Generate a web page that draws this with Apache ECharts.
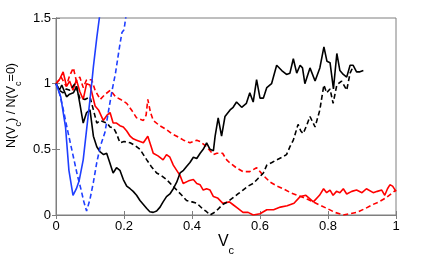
<!DOCTYPE html>
<html><head><meta charset="utf-8">
<script src="https://cdn.jsdelivr.net/npm/echarts@6/dist/echarts.min.js"></script>
<style>html,body{margin:0;padding:0;background:#fff}#c{width:436px;height:255px}</style>
</head><body><div id="c"></div>
<script>
const xTicks = [0, 0.2, 0.4, 0.6, 0.8, 1];
const yTicks = [0, 0.5, 1, 1.5];

const blueSolid = [[0,1.0],[0.014,0.9],[0.028,0.67],[0.038,0.34],[0.05,0.15],[0.06,0.2],[0.068,0.26],[0.08,0.42],[0.09,0.65],[0.1,0.88],[0.105,1.0],[0.11,1.13],[0.12,1.35],[0.13,1.55],[0.135,1.65]];
const blueDashed = [[0,1.0],[0.01,0.93],[0.02,0.82],[0.032,0.67],[0.042,0.55],[0.053,0.42],[0.063,0.3],[0.074,0.19],[0.082,0.1],[0.09,0.03],[0.1,0.12],[0.11,0.25],[0.12,0.4],[0.13,0.52],[0.144,0.63],[0.155,0.8],[0.165,0.95],[0.175,1.08],[0.185,1.25],[0.19,1.33],[0.194,1.39],[0.2,1.41],[0.205,1.5],[0.21,1.6]];
const redSolid = [[0,1.0],[0.01,1.03],[0.021,1.09],[0.031,0.98],[0.04,1.02],[0.05,0.95],[0.06,1.03],[0.07,0.94],[0.08,0.88],[0.09,1.0],[0.1,0.99],[0.115,0.83],[0.125,0.8],[0.139,0.72],[0.15,0.76],[0.159,0.78],[0.168,0.7],[0.178,0.7],[0.188,0.68],[0.198,0.67],[0.208,0.64],[0.218,0.6],[0.227,0.58],[0.237,0.57],[0.247,0.56],[0.257,0.55],[0.27,0.6],[0.28,0.52],[0.286,0.47],[0.3,0.45],[0.315,0.42],[0.325,0.46],[0.335,0.44],[0.345,0.38],[0.355,0.34],[0.365,0.3],[0.374,0.24],[0.39,0.26],[0.404,0.27],[0.414,0.24],[0.424,0.23],[0.433,0.19],[0.443,0.2],[0.453,0.19],[0.463,0.14],[0.475,0.13],[0.49,0.09],[0.51,0.1],[0.52,0.08],[0.535,0.05],[0.55,0.02],[0.565,0.02],[0.58,0.0],[0.6,0.01],[0.62,0.04],[0.64,0.04],[0.66,0.06],[0.68,0.07],[0.7,0.09],[0.718,0.14],[0.735,0.15],[0.757,0.1],[0.775,0.15],[0.787,0.2],[0.796,0.17],[0.806,0.19],[0.815,0.15],[0.825,0.18],[0.835,0.17],[0.845,0.2],[0.855,0.16],[0.87,0.18],[0.884,0.19],[0.9,0.17],[0.913,0.2],[0.933,0.17],[0.945,0.18],[0.958,0.19],[0.967,0.15],[0.975,0.2],[0.982,0.23],[0.99,0.22],[1.0,0.18]];
const redDashed = [[0,1.0],[0.015,1.05],[0.03,0.98],[0.04,1.06],[0.051,1.12],[0.06,1.02],[0.07,1.05],[0.08,0.97],[0.09,1.03],[0.105,1.03],[0.115,0.95],[0.13,0.88],[0.145,0.92],[0.16,0.95],[0.175,0.9],[0.19,0.88],[0.208,0.85],[0.222,0.8],[0.237,0.74],[0.257,0.72],[0.265,0.76],[0.27,0.88],[0.278,0.78],[0.286,0.72],[0.305,0.68],[0.325,0.65],[0.34,0.62],[0.355,0.6],[0.375,0.57],[0.394,0.55],[0.414,0.57],[0.424,0.56],[0.443,0.52],[0.463,0.46],[0.473,0.47],[0.49,0.47],[0.502,0.42],[0.51,0.4],[0.53,0.36],[0.55,0.33],[0.57,0.33],[0.59,0.36],[0.61,0.3],[0.63,0.25],[0.65,0.22],[0.668,0.2],[0.69,0.17],[0.72,0.14],[0.74,0.12],[0.756,0.1],[0.78,0.07],[0.797,0.05],[0.82,0.02],[0.845,0.0],[0.865,0.01],[0.885,0.02],[0.91,0.05],[0.932,0.08],[0.95,0.1],[0.97,0.13],[0.99,0.17],[1.0,0.19]];
const blackSolid = [[0,1.0],[0.01,0.95],[0.017,0.99],[0.031,0.9],[0.04,0.92],[0.051,0.93],[0.061,0.98],[0.07,0.85],[0.08,0.7],[0.09,0.78],[0.1,0.8],[0.11,0.6],[0.12,0.52],[0.13,0.48],[0.14,0.46],[0.149,0.47],[0.158,0.4],[0.168,0.32],[0.178,0.36],[0.188,0.34],[0.198,0.27],[0.208,0.22],[0.218,0.2],[0.227,0.18],[0.237,0.15],[0.247,0.11],[0.257,0.08],[0.267,0.05],[0.276,0.025],[0.286,0.02],[0.296,0.03],[0.306,0.06],[0.315,0.1],[0.325,0.14],[0.335,0.16],[0.345,0.2],[0.355,0.25],[0.365,0.32],[0.375,0.34],[0.384,0.37],[0.394,0.4],[0.404,0.44],[0.414,0.43],[0.424,0.47],[0.433,0.5],[0.443,0.55],[0.453,0.5],[0.463,0.49],[0.468,0.6],[0.477,0.74],[0.487,0.6],[0.497,0.75],[0.512,0.8],[0.521,0.82],[0.531,0.86],[0.546,0.82],[0.56,0.85],[0.57,0.93],[0.58,0.86],[0.59,1.03],[0.6,0.89],[0.61,0.89],[0.62,0.97],[0.634,1.0],[0.649,1.14],[0.664,1.1],[0.678,1.07],[0.688,1.08],[0.698,1.19],[0.708,1.08],[0.718,1.14],[0.725,1.12],[0.732,1.0],[0.747,1.12],[0.762,1.02],[0.776,1.12],[0.788,1.28],[0.797,1.17],[0.806,1.16],[0.816,0.96],[0.826,1.23],[0.835,1.1],[0.845,1.07],[0.855,1.05],[0.865,1.14],[0.874,1.14],[0.884,1.09],[0.894,1.09],[0.904,1.1]];
const blackDashed = [[0,1.0],[0.01,0.95],[0.021,0.93],[0.03,0.96],[0.041,0.95],[0.056,1.0],[0.07,0.89],[0.085,0.88],[0.1,0.9],[0.11,0.8],[0.12,0.7],[0.13,0.72],[0.139,0.71],[0.15,0.7],[0.159,0.67],[0.17,0.66],[0.178,0.62],[0.188,0.55],[0.2,0.56],[0.218,0.55],[0.232,0.53],[0.247,0.5],[0.257,0.46],[0.267,0.42],[0.28,0.37],[0.296,0.32],[0.31,0.3],[0.325,0.27],[0.34,0.23],[0.355,0.19],[0.37,0.15],[0.384,0.11],[0.4,0.1],[0.414,0.09],[0.43,0.05],[0.443,0.025],[0.453,0.0],[0.463,0.015],[0.475,0.04],[0.49,0.08],[0.505,0.1],[0.52,0.13],[0.535,0.16],[0.55,0.19],[0.565,0.22],[0.58,0.24],[0.595,0.28],[0.61,0.32],[0.62,0.38],[0.635,0.4],[0.649,0.42],[0.665,0.44],[0.678,0.46],[0.688,0.52],[0.698,0.57],[0.712,0.69],[0.72,0.64],[0.727,0.62],[0.737,0.68],[0.747,0.75],[0.762,0.67],[0.776,0.8],[0.784,0.93],[0.788,0.99],[0.796,0.93],[0.806,0.96],[0.815,0.85],[0.826,0.99],[0.84,1.02],[0.855,0.95],[0.865,1.08],[0.874,1.13]];

const chart = echarts.init(document.getElementById('c'), null, {renderer: 'canvas'});
const axisColor = '#7f7f7f';
const fontFam = 'Liberation Sans, Arial, sans-serif';
const tickStyle = {show: true, inside: true, length: 4, lineStyle: {color: axisColor, width: 1}};
function mk(data, color, dashed) {
  return {type: 'line', data: data, showSymbol: false, symbol: 'none', clip: true, animation: false,
    lineStyle: {color: color, width: 1.6, type: dashed ? [5, 3] : 'solid'}};
}
chart.setOption({
  backgroundColor: '#fff',
  animation: false,
  grid: {left: 56, right: 40, top: 18, bottom: 40, containLabel: false, outerBoundsMode: 'none', show: true, borderColor: axisColor, borderWidth: 1, backgroundColor: 'transparent'},
  xAxis: [{
    type: 'value', min: 0, max: 1, interval: 0.2, position: 'bottom',
    axisLine: {show: true, lineStyle: {color: axisColor}},
    axisTick: tickStyle, splitLine: {show: false},
    axisLabel: {color: '#000', fontSize: 13, fontFamily: fontFam, margin: 5, formatter: v => String(+v.toFixed(1))},
    name: '{m|V}{s|c}', nameLocation: 'middle', nameGap: 18, nameMoveOverlap: false,
    nameTextStyle: {rich: {m: {fontSize: 16, color: '#000', fontFamily: fontFam, lineHeight: 18}, s: {fontSize: 11, color: '#000', fontFamily: fontFam, verticalAlign: 'bottom', lineHeight: 10, padding: [0,0,-5,0]}}}
  }, {
    type: 'value', min: 0, max: 1, interval: 0.2, position: 'top',
    axisLine: {show: true, lineStyle: {color: axisColor}}, axisTick: tickStyle, axisLabel: {show: false}, splitLine: {show: false}
  }],
  yAxis: [{
    type: 'value', min: 0, max: 1.5, interval: 0.5, position: 'left',
    axisLine: {show: true, lineStyle: {color: axisColor}},
    axisTick: tickStyle, splitLine: {show: false},
    axisLabel: {color: '#000', fontSize: 13, fontFamily: fontFam, margin: 5, formatter: v => String(+v.toFixed(1))},
    name: '{m|N(V}{s|c}{m|) / N(V}{s|c}{m|=0)}', nameLocation: 'middle', nameGap: 37, nameRotate: 90, nameMoveOverlap: false,
    nameTextStyle: {padding: [0, 0, 0, 22], rich: {m: {fontSize: 12.5, color: '#000', fontFamily: fontFam, lineHeight: 15}, s: {fontSize: 9, color: '#000', fontFamily: fontFam, verticalAlign: 'bottom', lineHeight: 9, padding: [0,0,-4,0]}}}
  }, {
    type: 'value', min: 0, max: 1.5, interval: 0.5, position: 'right',
    axisLine: {show: true, lineStyle: {color: axisColor}}, axisTick: tickStyle, axisLabel: {show: false}, splitLine: {show: false}
  }],
  series: [
    mk(redDashed, '#ff0000', true),
    mk(redSolid, '#ff0000', false),
    mk(blackDashed, '#000000', true),
    mk(blackSolid, '#000000', false),
    mk(blueDashed, '#1f3fff', true),
    mk(blueSolid, '#1f3fff', false)
  ]
});
</script></body></html>
